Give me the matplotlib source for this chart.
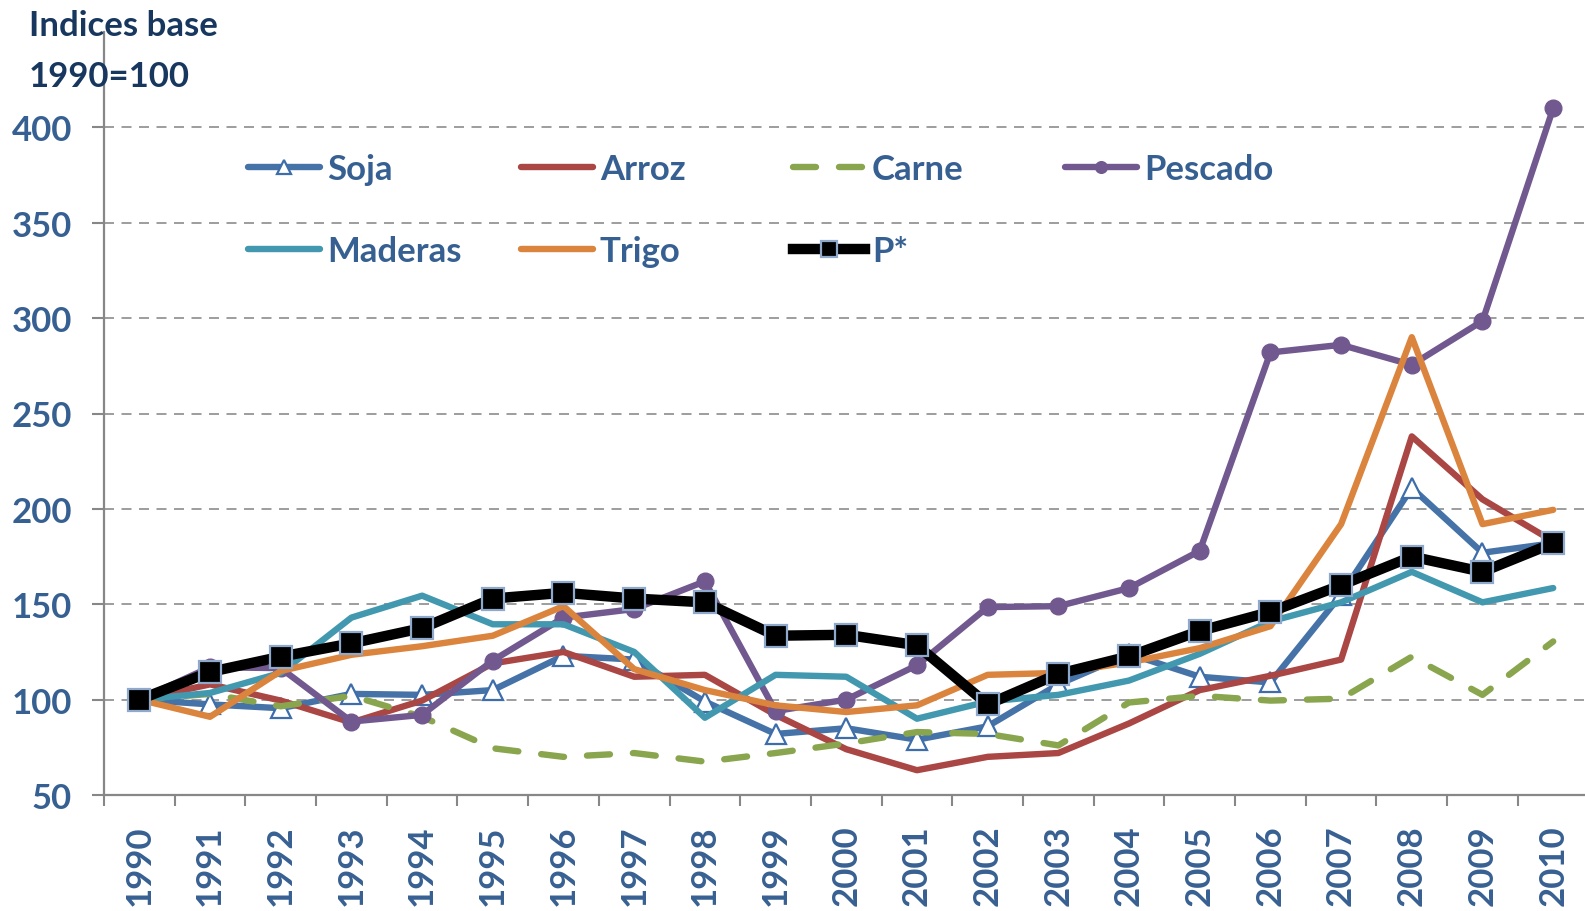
import matplotlib.pyplot as plt

years = [str(y) for y in range(1990, 2011)]

soja = [100, 97.5, 95.5, 103, 102.5, 105, 123, 121, 99, 82, 85, 79, 86, 108, 124, 112, 109, 155, 211, 177, 182]
arroz = [100, 108, 99.5, 88, 99.5, 119, 125, 112, 113, 92, 74, 63, 70, 72, 87.5, 105, 112.5, 121, 238, 205, 183]
carne = [100, 103, 96.5, 102, 91, 74.5, 70, 72, 67.5, 72, 77, 83, 82, 76, 98.5, 102, 99.5, 100.5, 122.5, 102.5, 130.5]
pescado = [100, 117, 116.5, 88.5, 92, 120.5, 143, 147.5, 162, 94, 100, 118, 148.5, 149, 158.5, 178, 282, 286, 275.5, 298.5, 410]
maderas = [100, 103.5, 114, 143, 154.5, 139.5, 139.5, 125, 90.5, 113, 112, 90, 99, 102.5, 110, 124, 141, 151, 167, 151, 158.5]
trigo = [100, 91, 115, 123.5, 128, 133.5, 149, 116, 105, 97, 93.5, 97, 113, 114, 119.5, 127, 138.5, 192, 290, 192, 199.5]
pstar = [100, 114.5, 122.5, 129.5, 137.5, 153, 156, 153, 151, 133.5, 134, 128.5, 97.5, 113.5, 122.7, 136, 146, 160, 175, 167, 182]

yticks = [50, 100, 150, 200, 250, 300, 350, 400]

plt.rcParams['font.family'] = ['Lato', 'DejaVu Sans']
plt.rcParams['font.weight'] = 'bold'

blue_txt = '#376092'
navy = '#17375E'
axis_gray = '#878787'
fs = 25

fig = plt.figure(figsize=(15.85, 9.12), dpi=100)
ax = fig.add_axes([104/1585, 1-796/912, 1-104/1585, (796-33)/912])

x = list(range(len(years)))
lw = 4.6

l_soja, = ax.plot(x, soja, color='#4572A7', lw=lw, marker='^', ms=15, mfc='white',
                  mec='#3E6DAB', mew=1.6, solid_capstyle='round', label='Soja')
l_arroz, = ax.plot(x, arroz, color='#AA4643', lw=lw, solid_capstyle='round', label='Arroz')
l_carne, = ax.plot(x, carne, color='#89A54E', lw=lw, linestyle=(0, (3.6, 3.6)),
                   dash_capstyle='round', label='Carne')
l_pesc, = ax.plot(x, pescado, color='#71588F', lw=lw, marker='o', ms=12,
                  solid_capstyle='round', label='Pescado')
l_mad, = ax.plot(x, maderas, color='#4198AF', lw=lw, solid_capstyle='round', label='Maderas')
l_trigo, = ax.plot(x, trigo, color='#DB843D', lw=lw, solid_capstyle='round', label='Trigo')
l_p, = ax.plot(x, pstar, color='black', lw=7.5, marker='s', ms=16, mfc='black',
               mec='#8EA9CC', mew=1.6, label='P*')

ax.set_xlim(-0.5, 20.45)
ax.set_ylim(50, 450)
ax.set_yticks(yticks)
ax.set_yticklabels([str(v) for v in yticks], color=blue_txt, fontsize=fs, fontweight='bold')
ax.set_xticks(x)
ax.set_xticklabels(years, rotation=90, color=blue_txt, fontsize=fs, fontweight='bold')
ax.set_xticks([i - 0.5 for i in range(len(years))], minor=True)
ax.tick_params(axis='x', which='major', length=0, pad=21)
ax.tick_params(axis='x', which='minor', length=8, width=1.5, color=axis_gray, direction='out')
ax.tick_params(axis='y', length=9, width=1.5, color=axis_gray, pad=14)

for v in yticks[1:]:
    ax.axhline(v, color='#8C8C8C', lw=1.2, linestyle=(0, (6, 4.5)), zorder=0)

for s in ['top', 'right']:
    ax.spines[s].set_visible(False)
for s in ['left', 'bottom']:
    ax.spines[s].set_color(axis_gray)
    ax.spines[s].set_linewidth(1.6)

# legend: four columns placed like the Excel layout
cols = [([l_soja, l_mad], 248), ([l_arroz, l_trigo], 521), ([l_carne, l_p], 793), ([l_pesc], 1065)]
for handles, xpx in cols:
    if len(handles) == 2:
        anchor = (xpx/1585, 1 - 211/912)
    else:
        anchor = (xpx/1585, 1 - 170/912)
    fig.legend(handles=handles, loc='center left', bbox_to_anchor=anchor,
               frameon=False, fontsize=fs, labelcolor=blue_txt, numpoints=1,
               handlelength=2.07, handletextpad=0.2, borderpad=0, borderaxespad=0,
               labelspacing=1.43, markerscale=0.7)

fig.text(29/1585, 1 - 10/912, 'Indices base\n1990=100', ha='left', va='top',
         fontsize=25, fontweight='bold', color=navy, linespacing=1.72)

fig.savefig('out.png', dpi=100)
